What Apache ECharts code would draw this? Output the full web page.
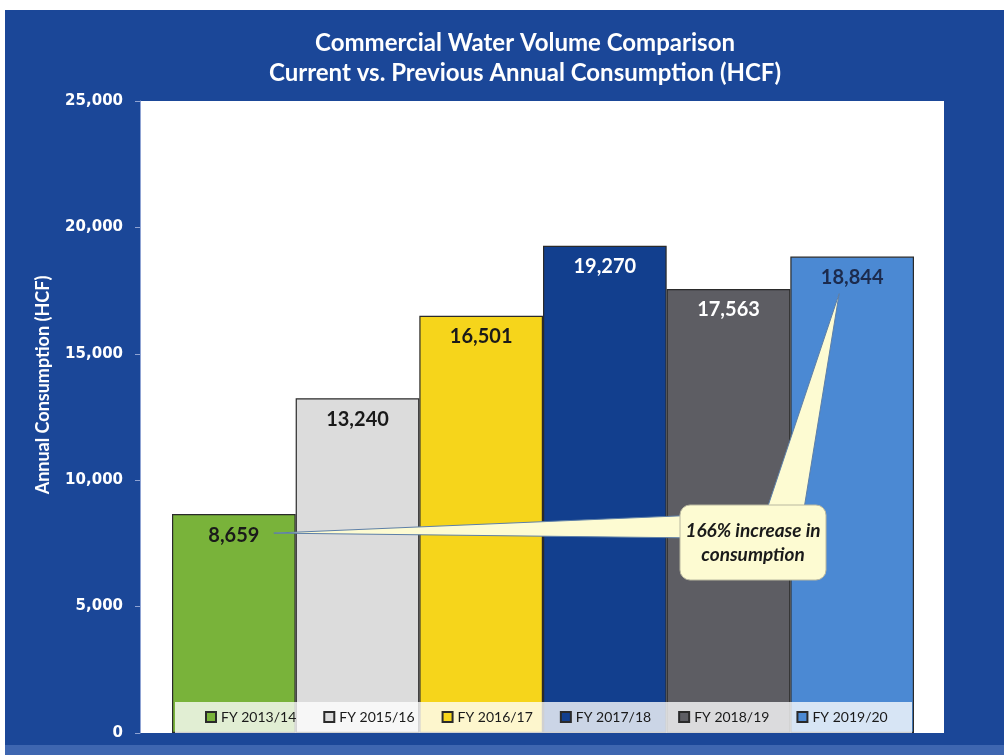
<!DOCTYPE html>
<html>
<head>
<meta charset="utf-8">
<script src="https://cdn.jsdelivr.net/npm/echarts@6/dist/echarts.min.js"></script>
<style>
html,body{margin:0;padding:0;background:#ffffff;}
#chart{width:1004px;height:755px;}
</style>
</head>
<body>
<div id="chart"></div>
<script>
const categories = ['FY 2013/14', 'FY 2015/16', 'FY 2016/17', 'FY 2017/18', 'FY 2018/19', 'FY 2019/20'];
const values = [8659, 13240, 16501, 19270, 17563, 18844];
const barColors = ['#79b33a', '#dcdcdc', '#f6d51b', '#123f8e', '#5d5d63', '#4b89d3'];
const labelColors = ['#1a1a1a', '#1a1a1a', '#1a1a1a', '#ffffff', '#ffffff', '#1c2b4d'];
const yTicks = [0, 5000, 10000, 15000, 20000, 25000];
const titleLines = ['Commercial Water Volume Comparison', 'Current vs. Previous Annual Consumption (HCF)'];
const yAxisName = 'Annual Consumption (HCF)';
const calloutText = ['166% increase in', 'consumption'];

const W = 1004, H = 755;
const PLOT = {left: 140, right: 60, top: 101, bottom: 22};
const BARS = {left: 172, right: 90, top: 101, bottom: 22};
const FONT = 'Lato, "Open Sans", sans-serif';

const chart = echarts.init(document.getElementById('chart'), null, {renderer: 'canvas'});

const series = categories.map((name, i) => ({
  name: name,
  type: 'bar',
  stack: 'all',
  xAxisIndex: 0,
  yAxisIndex: 0,
  barWidth: '100%',
  data: values.map((v, j) => (j === i ? v : null)),
  itemStyle: {color: barColors[i], borderColor: '#2a2a2a', borderWidth: 1.2},
  label: {
    show: true,
    position: 'insideTop',
    distance: 11,
    color: labelColors[i],
    fontFamily: FONT,
    fontWeight: 'bold',
    fontSize: 20,
    formatter: p => p.value.toLocaleString('en-US')
  },
  emphasis: {disabled: true},
  z: 2
}));

chart.setOption({
  animation: false,
  backgroundColor: '#ffffff',
  grid: [
    Object.assign({show: false, containLabel: false}, BARS),
    Object.assign({show: true, backgroundColor: '#ffffff', borderWidth: 0, containLabel: false}, PLOT)
  ],
  xAxis: [
    {type: 'category', gridIndex: 0, data: categories, show: false, boundaryGap: true},
    {type: 'value', gridIndex: 1, min: 0, max: 1, show: false}
  ],
  yAxis: [
    {type: 'value', gridIndex: 0, min: 0, max: 25000, interval: 5000, show: false},
    {
      type: 'value', gridIndex: 1, min: yTicks[0], max: yTicks[yTicks.length - 1], interval: 5000,
      axisLine: {show: true, lineStyle: {color: '#8fa3d3', width: 1}},
      axisTick: {show: true, length: 5, lineStyle: {color: '#8fa3d3'}},
      splitLine: {show: false},
      axisLabel: {
        color: '#ffffff', fontFamily: '"DejaVu Sans", sans-serif', fontWeight: 'bold', fontSize: 15, margin: 17,
        formatter: v => v.toLocaleString('en-US')
      }
    }
  ],
  legend: {
    data: categories,
    left: 200,
    bottom: 26,
    itemWidth: 10,
    itemHeight: 10,
    itemGap: 27,
    icon: 'rect',
    textStyle: {color: '#1a1a1a', fontFamily: FONT, fontSize: 14},
    selectedMode: false,
    z: 20
  },
  series: series
});

function buildGraphics() {
  const g = [];
  // outer blue frame
  g.push({type: 'rect', z: -10, silent: true, shape: {x: 5, y: 10, width: W - 5, height: 735}, style: {fill: '#1b4798'}});
  g.push({type: 'rect', z: -10, silent: true, shape: {x: 5, y: 745, width: W - 5, height: 10}, style: {fill: '#3e66b0'}});
  // title
  g.push({type: 'text', z: 10, silent: true, style: {text: titleLines[0], x: 525, y: 43, textAlign: 'center', textVerticalAlign: 'middle', fill: '#ffffff', font: 'bold 24px ' + FONT}});
  g.push({type: 'text', z: 10, silent: true, style: {text: titleLines[1], x: 525, y: 73, textAlign: 'center', textVerticalAlign: 'middle', fill: '#ffffff', font: 'bold 24px ' + FONT}});
  // y axis name
  g.push({type: 'text', z: 10, silent: true, x: 43, y: 385, rotation: Math.PI / 2, style: {text: yAxisName, x: 0, y: 0, textAlign: 'center', textVerticalAlign: 'middle', fill: '#ffffff', font: 'bold 18px ' + FONT}});

  // legend translucent band across the bars
  const p0 = chart.convertToPixel({xAxisIndex: 0, yAxisIndex: 0}, [0, 0]);
  const p5 = chart.convertToPixel({xAxisIndex: 0, yAxisIndex: 0}, [5, 0]);
  const halfW = (p5[0] - p0[0]) / 10;
  const bandL = p0[0] - halfW + 3, bandR = p5[0] + halfW - 2;
  g.push({type: 'rect', z: 5, silent: true, shape: {x: bandL, y: p0[1] - 31, width: bandR - bandL, height: 31}, style: {fill: 'rgba(255,255,255,0.78)'}});

  // callout
  const t1 = chart.convertToPixel({xAxisIndex: 0, yAxisIndex: 0}, [0, values[0]]);
  const t2 = chart.convertToPixel({xAxisIndex: 0, yAxisIndex: 0}, [5, values[5]]);
  const tip1 = [t1[0] + 40, t1[1] + 19];
  const tip2 = [t2[0] - 13, t2[1] + 37];
  const box = {x: 680, y: 505, w: 146, h: 75};
  const cream = '#fdfbd2';
  g.push({type: 'polygon', z: 8, silent: true, shape: {points: [tip1, [box.x + 20, box.y + 10], [box.x + 20, box.y + 33]]}, style: {fill: cream, stroke: '#5d7fa8', lineWidth: 1}});
  g.push({type: 'polygon', z: 8, silent: true, shape: {points: [tip2, [box.x + 85, box.y + 10], [box.x + 123, box.y + 10]]}, style: {fill: cream, stroke: '#5d7fa8', lineWidth: 1}});
  g.push({type: 'rect', z: 9, silent: true, shape: {x: box.x, y: box.y, width: box.w, height: box.h, r: 10}, style: {fill: cream, stroke: '#b9b8a0', lineWidth: 1}});
  g.push({type: 'text', z: 10, silent: true, style: {text: calloutText.join('\n'), x: box.x + box.w / 2, y: box.y + box.h / 2, textAlign: 'center', textVerticalAlign: 'middle', fill: '#1a1a1a', font: 'italic bold 19px ' + FONT, lineHeight: 24}});
  chart.setOption({graphic: g});
}
buildGraphics();
</script>
</body>
</html>
